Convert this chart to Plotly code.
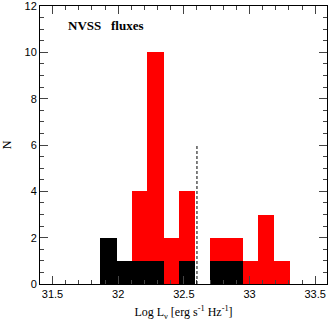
import plotly.graph_objects as go

# histogram bins (log L_nu, bin width 0.12)
bin_centers = [31.925, 32.045, 32.165, 32.285, 32.405, 32.525, 32.645,
               32.765, 32.885, 33.005, 33.125, 33.245]
all_counts = [2, 1, 4, 10, 2, 4, 0, 2, 2, 1, 3, 1]
sub_counts = [2, 1, 1, 1, 0, 1, 0, 1, 1, 0, 0, 0]
bin_width = 0.12

cut_x = 32.6
cut_top = 6

fig = go.Figure()

# bars drawn a hair wider than the bin so neighbours overlap (no seams)
fig.add_trace(go.Bar(
    x=bin_centers, y=all_counts, width=bin_width * 1.04,
    marker=dict(color="#ff0000", line=dict(width=0)),
    showlegend=False,
))
fig.add_trace(go.Bar(
    x=bin_centers, y=sub_counts, width=bin_width * 1.04,
    marker=dict(color="#000000", line=dict(width=0)),
    showlegend=False,
))

fig.add_shape(type="line", x0=cut_x, x1=cut_x, y0=0, y1=cut_top,
              line=dict(color="black", width=1, dash="3px,2px"))

fig.add_annotation(x=31.6, y=11.15, text="<b>NVSS   fluxes</b>",
                   showarrow=False, xanchor="left",
                   font=dict(family="Liberation Serif", size=13, color="black"))

axis_common = dict(
    showline=True, linecolor="black", linewidth=1, mirror="allticks",
    ticks="inside", tickcolor="#444", showgrid=False, zeroline=False,
    automargin=False, ticklabeloverflow="allow",
    tickfont=dict(family="Liberation Sans", size=11, color="black"),
)

fig.update_xaxes(
    range=[31.405, 33.59], dtick=0.5, tick0=31.5, ticklen=8,
    minor=dict(dtick=0.1, ticklen=4, ticks="inside", tickcolor="#444"),
    title=dict(text="Log L<sub>ν</sub> [erg s<sup>-1</sup> Hz<sup>-1</sup>]",
               font=dict(family="Liberation Serif", size=12, color="black"),
               standoff=8),
    **axis_common,
)
fig.update_yaxes(
    range=[0, 12.001], dtick=2, ticklen=8,
    minor=dict(dtick=0.5, ticklen=4, ticks="inside", tickcolor="#444"),
    title=dict(text="N", font=dict(family="Liberation Serif", size=12, color="black"),
               standoff=12),
    **axis_common,
)

fig.update_layout(
    width=332, height=321,
    margin=dict(l=40, r=5, t=6, b=37),
    barmode="overlay", bargap=0,
    plot_bgcolor="white", paper_bgcolor="white",
)

fig.write_html("out.html", config={"displayModeBar": False},
               post_script="document.body.style.margin='0';")
